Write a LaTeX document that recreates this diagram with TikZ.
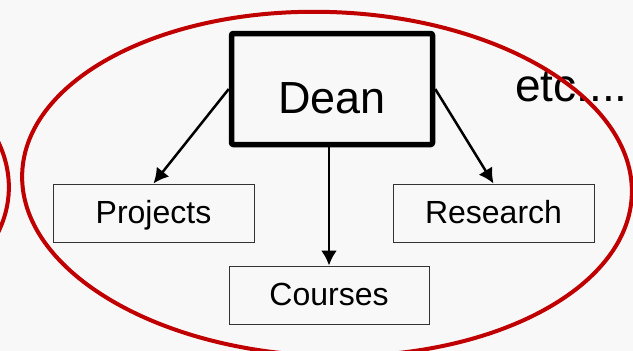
\documentclass[tikz,border=0pt]{standalone}
\usepackage{fontspec}
\setmainfont{Liberation Sans}
\usetikzlibrary{arrows.meta}
\definecolor{bg}{HTML}{F8F8F8}
\definecolor{ellred}{HTML}{C00000}
\begin{document}
\begin{tikzpicture}[x=1pt,y=-1pt,
  deanbox/.style={draw=black, line width=5.5pt, rounded corners=2pt, minimum width=201pt, minimum height=111pt, inner sep=0pt, font=\fontsize{45}{50}\selectfont, text height=48pt, text depth=0pt},
  unitbox/.style={draw=black!80, line width=1pt, minimum width=201pt, minimum height=58pt, inner sep=0pt, font=\fontsize{32}{36}\selectfont, text height=20pt, text depth=0pt},
  link/.style={line width=2.5pt, -{Latex[length=15pt,width=16pt]}},
  group/.style={draw=ellred, line width=4pt}]
\useasboundingbox[fill=bg] (0,0) rectangle (633,351);
\node[deanbox] (dean) at (332,89) {Dean};
\node[unitbox] (proj) at (153.5,213) {Projects};
\node[unitbox] (res) at (493.5,213) {Research};
\node[unitbox, minimum width=200pt] (cour) at (329,295) {Courses};
\node[anchor=base west, inner sep=0pt, font=\fontsize{46}{50}\selectfont] (etc) at (515,101) {etc....};
\draw[link] (dean.west) -- (proj.north);
\draw[link] (dean.east) -- (res.north);
\draw[link] (dean.south -| cour.north) -- (cour.north);
\draw[group, rotate around={-2:(327,184)}] (327,184) ellipse [x radius=305, y radius=172];
\draw[group, rotate around={-2:(-296,180)}] (-296,180) ellipse [x radius=305, y radius=172];
\end{tikzpicture}
\end{document}
